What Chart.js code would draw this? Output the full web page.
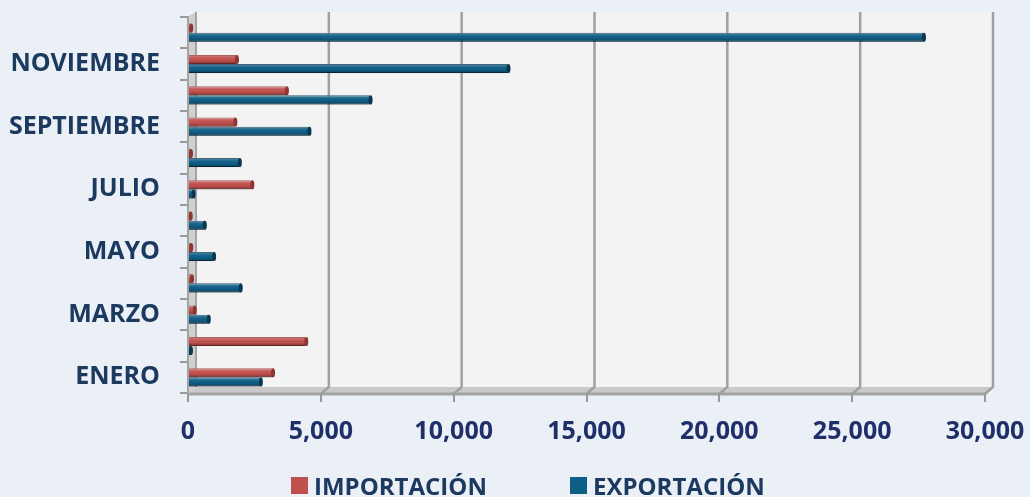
<!DOCTYPE html>
<html><head><meta charset="utf-8">
<script src="https://cdn.jsdelivr.net/npm/chart.js@4.4.1/dist/chart.umd.min.js"></script>
<style>
html,body{margin:0;padding:0;background:#EBF0F7;}
#wrap{position:relative;width:1030px;height:497px;overflow:hidden;}
canvas{position:absolute;left:0;top:0;}
#legend{position:absolute;left:0;top:470px;width:1030px;height:30px;font:bold 24px 'Open Sans',sans-serif;color:#1C3A60;}
.item{position:absolute;top:0;height:30px;display:flex;align-items:center;white-space:nowrap;}
.sw{width:17px;height:17px;margin-right:6px;flex:none;}
</style></head>
<body>
<div id="wrap"><canvas id="c" width="1030" height="497"></canvas><div id="legend"></div></div>
<script>
// ---- data ----
const months = ['ENERO','FEBRERO','MARZO','ABRIL','MAYO','JUNIO','JULIO','AGOSTO','SEPTIEMBRE','OCTUBRE','NOVIEMBRE','DICIEMBRE'];
const importacion = [3240, 4490, 290, 190, 160, 140, 2460, 150, 1820, 3760, 1880, 160];
const exportacion = [2780, 150, 820, 2020, 1020, 670, 250, 1990, 4610, 6910, 12100, 27740];
const xTicks = [0, 5000, 10000, 15000, 20000, 25000, 30000];
const seriesNames = ['IMPORTACIÓN', 'EXPORTACIÓN'];
const seriesColors = ['#C0504D', '#0F5E86'];
const seriesBorders = ['#8E3431', '#08384F'];
const legendX = [291, 570];

const wallPlugin = {
  id: 'wall',
  beforeDraw(chart) {
    const {ctx, chartArea: a, scales: {x}} = chart;
    const d = 8, top = a.top - 5, floorY = a.bottom - 6;
    ctx.save();
    ctx.fillStyle = '#F3F3F3';
    ctx.fillRect(a.left, top, a.right + d - a.left, a.bottom - top);
    ctx.fillStyle = '#C9C9C9';
    ctx.beginPath();
    ctx.moveTo(a.left, a.bottom + 1); ctx.lineTo(a.right, a.bottom + 1);
    ctx.lineTo(a.right + d, floorY); ctx.lineTo(a.left + d, floorY);
    ctx.closePath(); ctx.fill();
    ctx.strokeStyle = '#A3A3A3'; ctx.lineWidth = 3;
    ctx.beginPath(); ctx.moveTo(a.left, a.bottom + 1); ctx.lineTo(a.right, a.bottom + 1); ctx.stroke();
    ctx.strokeStyle = '#A0A0A0'; ctx.lineWidth = 2.5;
    xTicks.forEach(v => {
      if (v === 0) return;
      const px = x.getPixelForValue(v);
      ctx.beginPath();
      ctx.moveTo(px + d, top); ctx.lineTo(px + d, floorY); ctx.lineTo(px, a.bottom + 1);
      ctx.stroke();
    });
    ctx.fillStyle = '#D0D0D0';
    ctx.beginPath();
    ctx.moveTo(a.left, top + 4); ctx.lineTo(a.left + d, top); ctx.lineTo(a.left + d, floorY); ctx.lineTo(a.left, a.bottom + 1);
    ctx.closePath(); ctx.fill();
    ctx.strokeStyle = '#A3A3A3'; ctx.lineWidth = 2;
    ctx.beginPath(); ctx.moveTo(a.left + d, top); ctx.lineTo(a.left + d, floorY); ctx.stroke();
    ctx.restore();
  }
};

// cylinder shading on top of each bar element drawn by Chart.js
const shadePlugin = {
  id: 'shade',
  afterDatasetsDraw(chart) {
    const ctx = chart.ctx;
    chart.data.datasets.forEach((ds, di) => {
      chart.getDatasetMeta(di).data.forEach(el => {
        const {x, y, base, height} = el.getProps(['x', 'y', 'base', 'height'], true);
        const h = height, t = y - h / 2;
        const w = x - base;
        if (w <= 0) return;
        const g = ctx.createLinearGradient(0, t, 0, t + h);
        g.addColorStop(0, 'rgba(255,255,255,0.28)');
        g.addColorStop(0.35, 'rgba(255,255,255,0.05)');
        g.addColorStop(0.6, 'rgba(0,0,0,0)');
        g.addColorStop(1, 'rgba(0,0,0,0.35)');
        ctx.save();
        ctx.fillStyle = g;
        ctx.fillRect(base, t, w, h);
        ctx.fillStyle = seriesBorders[di];
        ctx.beginPath();
        ctx.ellipse(x - 1, y, 2, h / 2, 0, 0, Math.PI * 2);
        ctx.fill();
        ctx.restore();
      });
    });
  }
};

const chart = new Chart(document.getElementById('c'), {
  type: 'bar',
  data: {
    labels: months,
    datasets: [
      {label: seriesNames[0], data: importacion, backgroundColor: seriesColors[0], borderColor: seriesBorders[0], borderWidth: 1, borderRadius: 3, borderSkipped: 'start'},
      {label: seriesNames[1], data: exportacion, backgroundColor: seriesColors[1], borderColor: seriesBorders[1], borderWidth: 1, borderRadius: 3, borderSkipped: 'start'}
    ]
  },
  options: {
    indexAxis: 'y',
    responsive: false,
    animation: false,
    devicePixelRatio: 1,
    categoryPercentage: 0.58,
    barPercentage: 1.0,
    layout: {padding: {top: 17, right: 45, left: 0, bottom: 44}},
    plugins: {legend: {display: false}, tooltip: {enabled: false}},
    scales: {
      x: {
        min: 0, max: 30000,
        afterBuildTicks(s) { s.ticks = xTicks.map(v => ({value: v})); },
        afterFit(s) { s.height = 60; s.paddingLeft = 0; s.paddingRight = 0; },
        border: {display: false},
        grid: {drawOnChartArea: false, drawTicks: true, tickLength: 9, color: '#999', lineWidth: 2},
        ticks: {padding: 15, color: '#1F2F6A', font: {family: "'Open Sans'", weight: 'bold', size: 25},
          callback: v => v.toLocaleString('en-US')}
      },
      y: {
        reverse: true,
        afterFit(s) { s.width = 188; s.paddingTop = 0; s.paddingBottom = 0; },
        border: {display: true, color: '#A3A3A3', width: 2},
        grid: {offset: true, drawOnChartArea: false, drawTicks: true, tickLength: 8, color: '#999', lineWidth: 2},
        ticks: {autoSkip: false, padding: 20, color: '#1C3A60', font: {family: "'Open Sans'", weight: 'bold', size: 25},
          callback(v, i) { return i % 2 === 0 ? this.getLabelForValue(v) : ''; }}
      }
    }
  },
  plugins: [wallPlugin, shadePlugin]
});

const lg = document.getElementById('legend');
chart.data.datasets.forEach((ds, i) => {
  const it = document.createElement('div');
  it.className = 'item';
  it.style.left = legendX[i] + 'px';
  const sw = document.createElement('span');
  sw.className = 'sw';
  sw.style.background = ds.backgroundColor;
  const tx = document.createElement('span');
  tx.textContent = ds.label;
  it.appendChild(sw); it.appendChild(tx);
  lg.appendChild(it);
});
</script>
</body></html>
